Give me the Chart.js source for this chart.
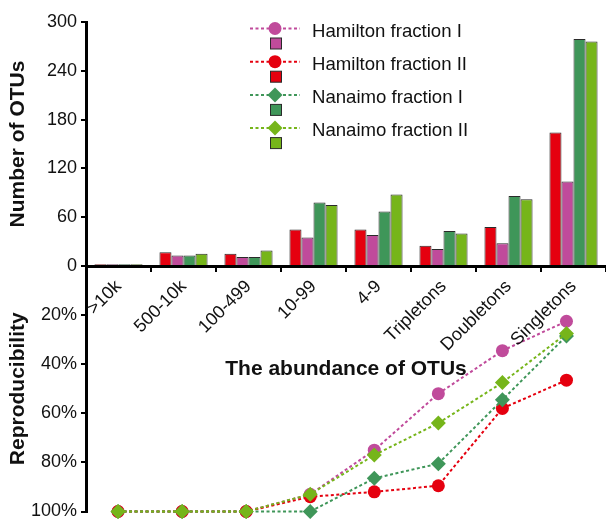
<!DOCTYPE html>
<html>
<head>
<meta charset="utf-8">
<script src="https://cdn.jsdelivr.net/npm/chart.js@4.4.1/dist/chart.umd.min.js"></script>
<style>
  html, body { margin: 0; padding: 0; background: #fff; }
  #wrap { position: relative; width: 606px; height: 520px; }
  #wrap canvas { position: absolute; left: 0; top: 0; }
</style>
</head>
<body>
<div id="wrap">
  <canvas id="repro" width="606" height="520"></canvas>
  <canvas id="otus" width="606" height="520"></canvas>
</div>
<script>
// OTU abundance classes
const categories = ['>10k', '500-10k', '100-499', '10-99', '4-9', 'Tripletons', 'Doubletons', 'Singletons'];

// Number of OTUs per abundance class
const hamiltonI_otus  = [2, 13, 11, 35, 38, 21, 28, 104];
const hamiltonII_otus = [2, 17, 15, 45, 45, 25, 48, 164];
const nanaimoI_otus   = [2, 13, 11, 78, 67, 43, 86, 279];
const nanaimoII_otus  = [2, 15, 19, 75, 88, 40, 82, 276];

// Reproducibility (%) per abundance class
const hamiltonI_rep  = [100, 100, 100, 93, 75, 52, 34.5, 22.5];
const hamiltonII_rep = [100, 100, 100, 94, 92, 89.5, 58, 46.5];
const nanaimoI_rep   = [100, 100, 100, 100, 86.5, 80.5, 54.5, 28.5];
const nanaimoII_rep  = [100, 100, 100, 93, 77, 64, 47.5, 27.5];

const seriesNames   = ['Hamilton fraction I', 'Hamilton fraction II', 'Nanaimo fraction I', 'Nanaimo fraction II'];
const seriesColors  = ['#C04B9B', '#E5000F', '#3F9659', '#76B51A'];
const seriesMarkers = ['circle', 'circle', 'rectRot', 'rectRot'];

const otuAxisMax = 300, otuAxisStep = 60;
const reproAxisStep = 20;

const FONT = "'Liberation Sans', Arial, sans-serif";
const INK = '#111';
const AXIS = '#000';
Chart.defaults.font.family = FONT;
Chart.defaults.color = INK;

// Legend: each series shows its dotted line + marker, with the bar swatch below it
const pairedLegend = {
  id: 'pairedLegend',
  afterDraw(chart) {
    const ctx = chart.ctx;
    ctx.save();
    seriesNames.forEach((name, i) => {
      const y = 28.5 + i * 33.2;
      const color = seriesColors[i];
      ctx.strokeStyle = color;
      ctx.lineWidth = 2;
      ctx.setLineDash([3, 2.5]);
      ctx.beginPath();
      ctx.moveTo(250, y);
      ctx.lineTo(300, y);
      ctx.stroke();
      ctx.setLineDash([]);
      ctx.fillStyle = color;
      ctx.beginPath();
      if (seriesMarkers[i] === 'circle') {
        ctx.arc(275, y, 6.5, 0, Math.PI * 2);
      } else {
        const r = 7.5;
        ctx.moveTo(275 - r, y);
        ctx.lineTo(275, y - r);
        ctx.lineTo(275 + r, y);
        ctx.lineTo(275, y + r);
        ctx.closePath();
      }
      ctx.fill();
      ctx.fillRect(270.5, y + 9.5, 11, 11);
      ctx.strokeStyle = '#2a2a2a';
      ctx.lineWidth = 1;
      ctx.strokeRect(270.5, y + 9.5, 11, 11);
      ctx.fillStyle = INK;
      ctx.font = '18.6px ' + FONT;
      ctx.textBaseline = 'middle';
      ctx.textAlign = 'left';
      ctx.fillText(name, 312, y + 3);
    });
    ctx.restore();
  }
};

const tickFont = { size: 18 };
const titleFont = { size: 21, weight: 'bold' };

// Upper panel: number of OTUs (bars)
const barOrder = [1, 0, 2, 3];
const barData = [hamiltonI_otus, hamiltonII_otus, nanaimoI_otus, nanaimoII_otus];
new Chart(document.getElementById('otus'), {
  type: 'bar',
  data: {
    labels: categories,
    datasets: barOrder.map(i => ({
      label: seriesNames[i],
      data: barData[i],
      backgroundColor: seriesColors[i],
      borderColor: '#2a2a2a',
      borderWidth: 1,
      categoryPercentage: 0.74,
      barPercentage: 1
    }))
  },
  options: {
    responsive: false,
    animation: false,
    devicePixelRatio: 1,
    layout: { padding: { top: 22, left: 0, right: 0, bottom: 138 } },
    plugins: { legend: { display: false }, tooltip: { enabled: false } },
    scales: {
      x: {
        grid: { drawOnChartArea: false, drawTicks: true, tickLength: 6, color: AXIS, lineWidth: 2, offset: true },
        border: { display: true, color: AXIS, width: 3 },
        ticks: { autoSkip: false, maxRotation: 45, minRotation: 45, padding: 4, color: INK, font: tickFont },
        title: { display: true, text: 'The abundance of OTUs', color: INK, font: titleFont, padding: 0 },
        afterFit(s) { s.height = 116; s.paddingLeft = 0; s.paddingRight = 0; }
      },
      y: {
        min: 0,
        max: otuAxisMax,
        ticks: { stepSize: otuAxisStep, padding: 4, color: INK, font: tickFont },
        grid: { drawOnChartArea: false, tickLength: 5, color: AXIS, lineWidth: 2 },
        border: { display: true, color: AXIS, width: 3 },
        title: { display: true, text: 'Number of OTUs', color: INK, font: titleFont, padding: { top: 6, bottom: 0 } },
        afterFit(s) { s.width = 86; s.paddingTop = 0; s.paddingBottom = 0; }
      }
    }
  },
  plugins: [pairedLegend]
});

// Lower panel: reproducibility (dotted lines, inverted percentage axis)
const repData = [hamiltonI_rep, hamiltonII_rep, nanaimoI_rep, nanaimoII_rep];
new Chart(document.getElementById('repro'), {
  type: 'line',
  data: {
    labels: categories,
    datasets: repData.map((d, i) => ({
      label: seriesNames[i],
      data: d,
      borderColor: seriesColors[i],
      backgroundColor: seriesColors[i],
      borderWidth: 2,
      borderDash: [3, 2.5],
      pointStyle: seriesMarkers[i],
      pointRadius: seriesMarkers[i] === 'circle' ? 6.5 : 7.5,
      pointBackgroundColor: seriesColors[i],
      pointBorderColor: seriesColors[i],
      pointBorderWidth: 0,
      fill: false,
      tension: 0,
      clip: false,
      order: 3 - i
    }))
  },
  options: {
    responsive: false,
    animation: false,
    devicePixelRatio: 1,
    layout: { padding: { top: 266, left: 0, right: 0, bottom: 8.5 } },
    plugins: { legend: { display: false }, tooltip: { enabled: false } },
    scales: {
      x: { display: false, offset: true },
      y: {
        reverse: true,
        min: 0,
        max: 100,
        ticks: {
          stepSize: reproAxisStep, padding: 4, color: INK, font: tickFont,
          callback: v => (v === 0 ? '' : v + '%')
        },
        grid: { drawOnChartArea: false, tickLength: 5, color: AXIS, lineWidth: 2 },
        border: { display: true, color: AXIS, width: 3 },
        title: { display: true, text: 'Reproducibility', color: INK, font: titleFont, padding: { top: 6, bottom: 0 } },
        afterFit(s) { s.width = 86; s.paddingTop = 0; s.paddingBottom = 0; }
      }
    }
  }
});
</script>
</body>
</html>
